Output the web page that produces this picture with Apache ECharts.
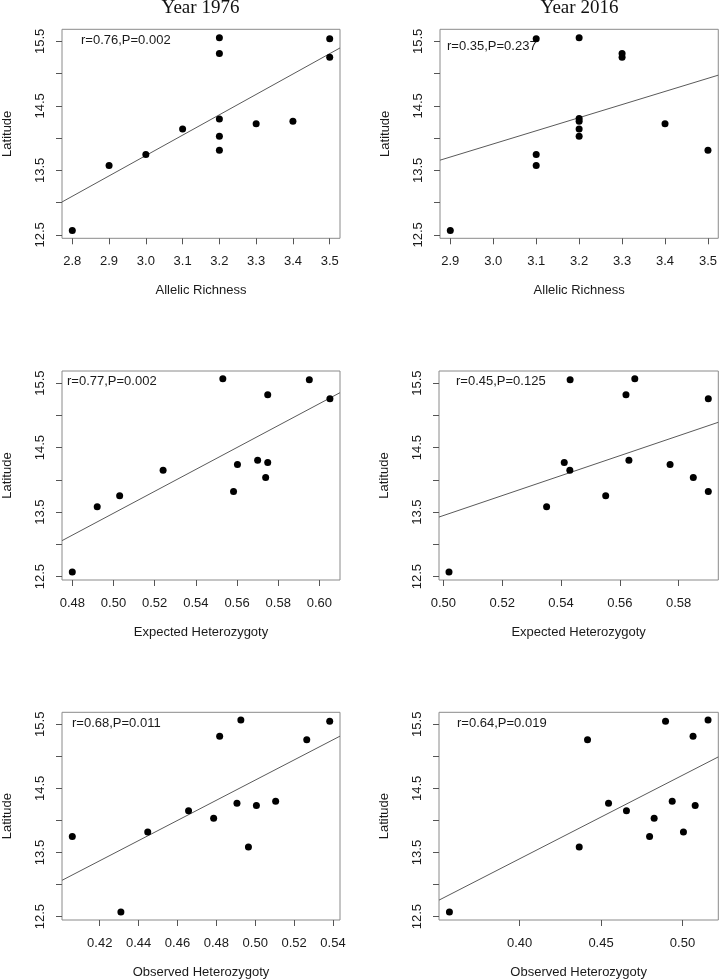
<!DOCTYPE html>
<html>
<head>
<meta charset="utf-8">
<script src="https://cdn.jsdelivr.net/npm/echarts@6/dist/echarts.min.js"></script>
<style>
html,body{margin:0;padding:0;background:#fff;}
#chart{width:720px;height:980px;}
</style>
</head>
<body>
<div id="chart"></div>
<script>
// ---- data ----
var panelTitles = ['Year 1976', 'Year 2016'];
var xNames = ['Allelic Richness', 'Allelic Richness', 'Expected Heterozygoty', 'Expected Heterozygoty', 'Observed Heterozygoty', 'Observed Heterozygoty'];
var yName = 'Latitude';
var statLabels = ['r=0.76,P=0.002', 'r=0.35,P=0.237', 'r=0.77,P=0.002', 'r=0.45,P=0.125', 'r=0.68,P=0.011', 'r=0.64,P=0.019'];

var ar1976 = [[2.8,12.567],[2.9,13.576],[3.0,13.745],[3.1,14.142],[3.2,15.557],[3.2,15.310],[3.2,14.296],[3.2,14.029],[3.2,13.812],[3.3,14.224],[3.4,14.260],[3.5,15.542],[3.5,15.253]];
var ar2016 = [[2.9,12.567],[3.1,15.542],[3.1,13.745],[3.1,13.576],[3.2,15.557],[3.2,14.306],[3.2,14.260],[3.2,14.142],[3.2,14.029],[3.3,15.310],[3.3,15.253],[3.4,14.224],[3.5,13.812]];
var he1976 = [[0.480,12.572],[0.4921,13.582],[0.503,13.753],[0.5241,14.149],[0.5531,15.567],[0.5583,13.820],[0.5602,14.237],[0.570,14.304],[0.5749,14.268],[0.5739,14.036],[0.5749,15.320],[0.5951,15.552],[0.6051,15.258]];
var he2016 = [[0.5019,12.572],[0.5351,13.582],[0.5411,14.268],[0.5430,14.149],[0.5431,15.552],[0.5552,13.753],[0.5621,15.320],[0.5631,14.304],[0.5651,15.567],[0.5771,14.237],[0.5850,14.036],[0.5901,15.258],[0.5901,13.820]];
var ho1976 = [[0.4059,13.751],[0.4309,12.572],[0.4447,13.818],[0.4657,14.152],[0.4786,14.034],[0.4817,15.315],[0.4906,14.270],[0.4926,15.567],[0.4965,13.586],[0.5006,14.234],[0.5105,14.301],[0.5265,15.259],[0.5383,15.547]];
var ho2016 = [[0.3569,12.572],[0.4366,13.586],[0.4417,15.259],[0.4546,14.270],[0.4656,14.152],[0.4798,13.751],[0.4826,14.034],[0.4896,15.547],[0.4937,14.301],[0.5006,13.818],[0.5065,15.315],[0.5078,14.234],[0.5157,15.567]];
var panelData = [ar1976, ar2016, he1976, he2016, ho1976, ho2016];

// regression lines (end points read at plot edges)
var fit1 = [[2.772,13.010],[3.528,15.398]];
var fit2 = [[2.876,13.658],[3.524,14.976]];
var fit3 = [[0.475,13.057],[0.610,15.351]];
var fit4 = [[0.4985,13.423],[0.5935,14.892]];
var fit5 = [[0.4006,13.066],[0.5436,15.315]];
var fit6 = [[0.3505,12.757],[0.5220,14.991]];
var fits = [fit1, fit2, fit3, fit4, fit5, fit6];

// axis ranges and ticks
var xRanges = [[2.772,3.528],[2.876,3.524],[0.475,0.610],[0.4985,0.5935],[0.4006,0.5436],[0.3505,0.5220]];
var yRange = [12.447, 15.687];
var xTicks = [
  [2.8,2.9,3.0,3.1,3.2,3.3,3.4,3.5],
  [2.9,3.0,3.1,3.2,3.3,3.4,3.5],
  [0.48,0.50,0.52,0.54,0.56,0.58,0.60],
  [0.50,0.52,0.54,0.56,0.58],
  [0.42,0.44,0.46,0.48,0.50,0.52,0.54],
  [0.40,0.45,0.50]
];
var xTickLabels = [
  ['2.8','2.9','3.0','3.1','3.2','3.3','3.4','3.5'],
  ['2.9','3.0','3.1','3.2','3.3','3.4','3.5'],
  ['0.48','0.50','0.52','0.54','0.56','0.58','0.60'],
  ['0.50','0.52','0.54','0.56','0.58'],
  ['0.42','0.44','0.46','0.48','0.50','0.52','0.54'],
  ['0.40','0.45','0.50']
];
var yTicks = [12.5,13.0,13.5,14.0,14.5,15.0,15.5];
var yLabelTicks = [12.5,13.5,14.5,15.5];
var yTickLabels = ['12.5','13.5','14.5','15.5'];

// ---- layout (styles) ----
var grids = [
  {left:61, top:29.3, width:279, height:209},
  {left:440, top:29.3, width:279.3, height:209},
  {left:61, top:371, width:279, height:209},
  {left:439, top:371, width:279.3, height:209},
  {left:61, top:712.3, width:279, height:209.4},
  {left:439, top:712.3, width:279.3, height:209.4}
];
var statPos = [[81,41.7],[447,47.7],[67,382.7],[456,382.7],[72,724],[457,724]];
var titlePos = [[200.5,8.5],[579.5,8.5]];

var SANS = 'Liberation Sans, Arial, sans-serif';
var SERIF = 'Liberation Serif, Times New Roman, serif';
var TXT = '#1a1a1a';

var option = {
  backgroundColor:'#fff',
  animation:false,
  grid: grids.map(function(g){
    return {left:g.left, top:g.top, width:g.width, height:g.height, show:true, borderColor:'#8a8a8a', borderWidth:1, backgroundColor:'transparent', containLabel:false};
  }),
  xAxis: grids.map(function(g,i){
    return {
      type:'value', gridIndex:i, min:xRanges[i][0], max:xRanges[i][1],
      name:xNames[i], nameLocation:'middle', nameGap:46,
      nameTextStyle:{fontFamily:SANS, fontSize:13, color:TXT},
      axisLine:{show:false},
      splitLine:{show:false},
      axisTick:{show:true, inside:false, length:6, lineStyle:{color:'#555', width:1}, customValues:xTicks[i]},
      axisLabel:{show:true, margin:17, fontFamily:SANS, fontSize:13, color:TXT, customValues:xTicks[i],
        formatter:(function(idx){return function(v){
          for (var k=0;k<xTicks[idx].length;k++){ if (Math.abs(xTicks[idx][k]-v)<1e-9) return xTickLabels[idx][k]; }
          return '';
        };})(i)}
    };
  }),
  yAxis: grids.map(function(g,i){
    return {
      type:'value', gridIndex:i, min:yRange[0], max:yRange[1],
      name:yName, nameLocation:'middle', nameGap:48, nameRotate:90,
      nameTextStyle:{fontFamily:SANS, fontSize:13, color:TXT},
      axisLine:{show:false},
      splitLine:{show:false},
      axisTick:{show:true, inside:false, length:6, lineStyle:{color:'#555', width:1}, customValues:yTicks},
      axisLabel:{show:true, rotate:90, margin:15, fontFamily:SANS, fontSize:13, color:TXT, customValues:yLabelTicks,
        formatter:function(v){
          for (var k=0;k<yLabelTicks.length;k++){ if (Math.abs(yLabelTicks[k]-v)<1e-9) return yTickLabels[k]; }
          return '';
        }}
    };
  }),
  series: [],
  graphic: []
};

for (var i=0;i<6;i++){
  option.series.push({
    type:'line', xAxisIndex:i, yAxisIndex:i, data:fits[i], symbol:'none',
    lineStyle:{color:'#5a5a5a', width:1}, silent:true, z:2
  });
  option.series.push({
    type:'scatter', xAxisIndex:i, yAxisIndex:i, data:panelData[i],
    symbol:'circle', symbolSize:7, itemStyle:{color:'#000', opacity:1}, z:3
  });
  option.graphic.push({
    type:'text', left:statPos[i][0], top:statPos[i][1]-7.5,
    style:{text:statLabels[i], fontFamily:SANS, fontSize:13, fill:TXT}
  });
}
for (var j=0;j<2;j++){
  option.graphic.push({
    type:'text', x:titlePos[j][0], y:titlePos[j][1],
    style:{text:panelTitles[j], fontFamily:SERIF, fontSize:19, fill:'#111', textAlign:'center', textVerticalAlign:'middle'}
  });
}

var chart = echarts.init(document.getElementById('chart'), null, {renderer:'canvas'});
chart.setOption(option);
</script>
</body>
</html>
